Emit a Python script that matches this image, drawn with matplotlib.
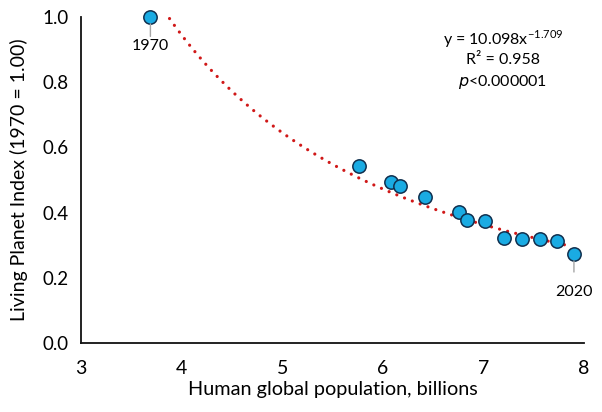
import numpy as np
import matplotlib.pyplot as plt

plt.rcParams['font.family'] = ['Lato', 'DejaVu Sans']

# human population (billions) vs Living Planet Index
population = [3.69, 5.76, 6.08, 6.17, 6.42, 6.76, 6.84, 7.02, 7.20, 7.38, 7.56, 7.73, 7.90]
lpi = [1.00, 0.544, 0.495, 0.483, 0.448, 0.401, 0.377, 0.375, 0.321, 0.319, 0.318, 0.313, 0.273]
fit_a, fit_b = 10.098, -1.709
fit_range = (3.88, 7.85)

W, H = 602, 412
fig = plt.figure(figsize=(W/100, H/100), dpi=100)
ax = fig.add_axes([81/W, 69/H, 503/W, 326/H])

xf = np.linspace(fit_range[0], fit_range[1], 200)
ax.plot(xf, fit_a * xf**fit_b, color='#d01818', lw=2.3,
        linestyle=(0, (0.01, 2.6)), dash_capstyle='round', zorder=2)

ax.plot(population, lpi, 'o', ms=9.6, mfc='#1aabe3', mec='#10304f',
        mew=1.1, zorder=3, clip_on=False)

# year labels with leader lines
ax.annotate('1970', xy=(population[0], lpi[0]), xytext=(0, -21),
            textcoords='offset points', ha='center', va='center', fontsize=11.5,
            arrowprops=dict(arrowstyle='-', color='#a6a6a6', lw=1,
                            shrinkA=0, shrinkB=5))
ax.annotate('2020', xy=(population[-1], lpi[-1]), xytext=(0, -27),
            textcoords='offset points', ha='center', va='center', fontsize=11.5,
            arrowprops=dict(arrowstyle='-', color='#a6a6a6', lw=1,
                            shrinkA=7, shrinkB=5))

# fit equation, placed in figure pixels from the top
eq_lines = [r'y = 10.098x$^{\mathregular{-1.709}}$', 'R² = 0.958',
            r'$\mathit{p}$<0.000001']
for txt, ypix in zip(eq_lines, [39, 60, 82]):
    fig.text(503/W, 1 - ypix/H, txt, ha='center', va='center', fontsize=11.5)

ax.set_xlim(3, 8)
ax.set_ylim(0, 1.0)
ax.set_xticks([3, 4, 5, 6, 7, 8])
ax.set_yticks([0.0, 0.2, 0.4, 0.6, 0.8, 1.0])
ax.set_yticklabels(['0.0', '0.2', '0.4', '0.6', '0.8', '1.0'])
ax.tick_params(length=0, labelsize=13.5, pad=9)
ax.tick_params(axis='x', labelsize=14, pad=12)
for s in ['top', 'right']:
    ax.spines[s].set_visible(False)
for s in ['left', 'bottom']:
    ax.spines[s].set_linewidth(1.3)
    ax.spines[s].set_color('#111111')

ax.set_xlabel('Human global population, billions', fontsize=14.3, labelpad=3)
ax.set_ylabel('Living Planet Index (1970 = 1.00)', fontsize=14, labelpad=10)

fig.savefig('out.png', dpi=100)
